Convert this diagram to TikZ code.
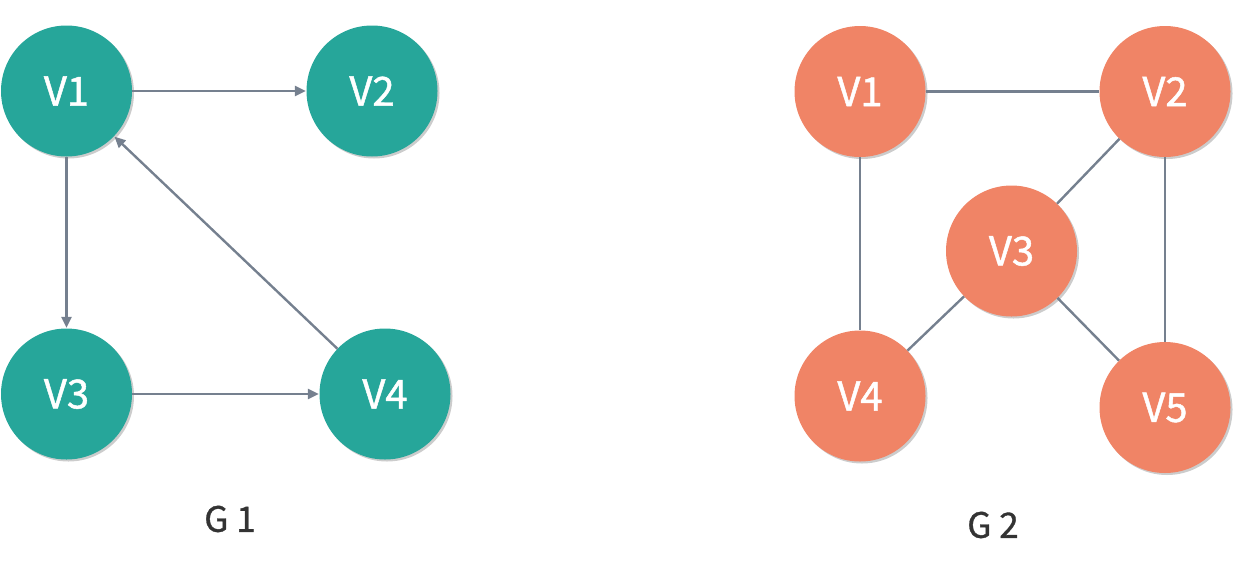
\documentclass[tikz,border=0pt]{standalone}
\usepackage{fontspec}
\setmainfont{Noto Sans CJK SC}
\newfontfamily\vtxfont[FakeBold=1.2]{Noto Sans CJK SC}
\newfontfamily\capfont[FakeBold=1]{Noto Sans CJK SC}
\usepackage{tikz}
\usetikzlibrary{arrows.meta,shadows}

\definecolor{tealv}{HTML}{26A69A}
\definecolor{salmonv}{HTML}{F08466}
\definecolor{edgegray}{HTML}{75808F}
\definecolor{titlegray}{HTML}{333333}

\begin{document}
\begin{tikzpicture}[
    x=1pt, y=-1pt,
    vtx/.style={circle, minimum size=131pt, inner sep=0pt, text=white, font=\vtxfont\fontsize{40}{44}\selectfont,
        drop shadow={shadow xshift=2pt, shadow yshift=-2pt, opacity=0.2, fill=black}},
    dirvtx/.style={vtx, fill=tealv},
    undvtx/.style={vtx, fill=salmonv},
    edge/.style={draw=edgegray, line width=2.4pt},
    arc/.style={edge, -{Triangle[length=11pt,width=10pt]}, shorten >=0.5pt},
    caption/.style={text=titlegray, font=\capfont\fontsize{35}{40}\selectfont}
]
\useasboundingbox (0,0) rectangle (1246,584);

% G1
\node[dirvtx] (a1) at (66.5,91) {V1};
\node[dirvtx] (a2) at (372,91) {V2};
\node[dirvtx] (a3) at (66.5,394) {V3};
\node[dirvtx] (a4) at (385,394) {V4};
\node[caption] (g1) at (230,519) {G 1};

\draw[arc] (a1) -- (a2);
\draw[arc] (a1) -- (a3);
\draw[arc] (a3) -- (a4);
\draw[arc] (a4) -- (a1);

% G2
\node[undvtx] (b1) at (860,91.5) {V1};
\node[undvtx] (b2) at (1165,91.5) {V2};
\node[undvtx] (b3) at (1011.5,251) {V3};
\node[undvtx] (b4) at (860,396) {V4};
\node[undvtx] (b5) at (1165,407.5) {V5};
\node[caption] (g2) at (993,525) {G 2};

\draw[edge] (b1) -- (b2);
\draw[edge] (b1) -- (b4);
\draw[edge] (b2) -- (b5);
\draw[edge] (b2) -- (b3);
\draw[edge] (b3) -- (b4);
\draw[edge] (b3) -- (b5);

\end{tikzpicture}
\end{document}
